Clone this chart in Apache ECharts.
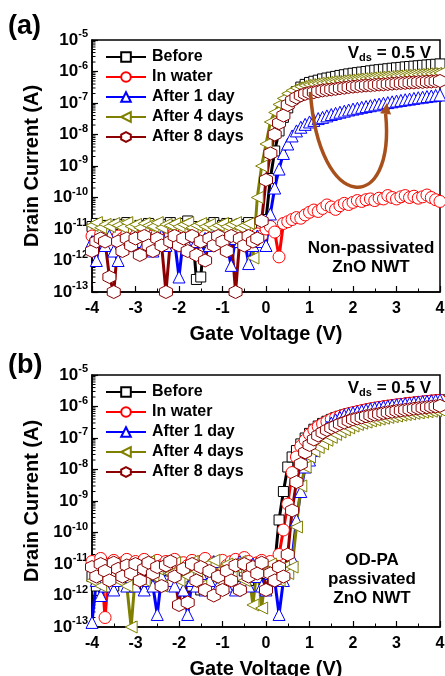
<!DOCTYPE html>
<html>
<head>
<meta charset="utf-8">
<script src="https://cdn.jsdelivr.net/npm/echarts@6/dist/echarts.min.js"></script>
<style>html,body{margin:0;padding:0;background:#fff}#c{width:445px;height:676px}</style>
</head>
<body>
<div id="c"></div>
<script>
// Gate voltage sweep (V)
const V = [-4.0,-3.9,-3.8,-3.7,-3.6,-3.5,-3.4,-3.3,-3.2,-3.1,
 -3.0,-2.9,-2.8,-2.7,-2.6,-2.5,-2.4,-2.3,-2.2,-2.1,
 -2.0,-1.9,-1.8,-1.7,-1.6,-1.5,-1.4,-1.3,-1.2,-1.1,
 -1.0,-0.9,-0.8,-0.7,-0.6,-0.5,-0.4,-0.3,-0.2,-0.1,
 0.0,0.1,0.2,0.3,0.4,0.5,0.6,0.7,0.8,0.9,
 1.0,1.1,1.2,1.3,1.4,1.5,1.6,1.7,1.8,1.9,
 2.0,2.1,2.2,2.3,2.4,2.5,2.6,2.7,2.8,2.9,
 3.0,3.1,3.2,3.3,3.4,3.5,3.6,3.7,3.8,3.9,
 4.0];
const seriesNames = ['Before','In water','After 1 day','After 4 days','After 8 days'];
const yTicks = [1e-13,1e-12,1e-11,1e-10,1e-9,1e-8,1e-7,1e-6,1e-5];
const xTicks = [-4,-3,-2,-1,0,1,2,3,4];

// ---- Panel (a): non-passivated ----
const aBefore = [
 1.2e-11,1.5e-11,9e-12,1.3e-11,1.1e-11,8e-12,1.4e-11,1.2e-11,1.6e-11,9e-12,
 1.1e-11,1.3e-11,1e-11,1.5e-11,1.2e-11,4e-12,1.4e-11,1.1e-11,1.6e-11,1.3e-11,
 9e-12,1.5e-11,1.8e-11,1.2e-11,2.5e-13,3e-13,1.1e-11,1.4e-11,1.6e-11,1e-11,
 1.3e-11,1.5e-11,1.1e-11,9e-12,1.4e-11,1.2e-11,1.6e-11,1.2e-11,1.5e-11,1.1e-11,
 2e-11,4e-10,3e-9,1.3e-8,3.5e-8,7e-8,1.4e-7,2.3e-7,3.2e-7,3.9e-7,
 4.5e-7,4.9e-7,5.3e-7,5.8e-7,6.2e-7,6.6e-7,7.0e-7,7.5e-7,7.9e-7,8.4e-7,
 8.8e-7,9.2e-7,9.6e-7,1.0e-6,1.05e-6,1.1e-6,1.14e-6,1.18e-6,1.22e-6,1.27e-6,
 1.31e-6,1.35e-6,1.4e-6,1.44e-6,1.48e-6,1.52e-6,1.57e-6,1.61e-6,1.65e-6,1.7e-6,
 1.74e-6];
const aWater = [
 6e-12,4e-12,7e-12,5e-12,8e-12,3e-12,6e-12,5e-12,7e-12,4e-12,
 6e-12,5e-12,8e-12,4e-12,6e-12,7e-12,5e-12,3e-12,6e-12,8e-12,
 5e-12,7e-12,4e-12,6e-12,5e-12,8e-12,6e-12,4e-12,7e-12,5e-12,
 6e-12,8e-12,5e-12,7e-12,4e-12,6e-12,8e-12,5e-12,7e-12,6e-12,
 1e-11,1.2e-11,8e-12,1.3e-12,1.5e-11,1.7e-11,2e-11,2.3e-11,2.2e-11,2.8e-11,
 3.4e-11,4e-11,3.6e-11,4.5e-11,5.8e-11,5e-11,4.2e-11,5.5e-11,6.5e-11,6e-11,
 7e-11,8e-11,7.5e-11,8.5e-11,9e-11,8e-11,9.5e-11,9e-11,1.15e-10,1e-10,
 9e-11,1.05e-10,1.15e-10,1e-10,1.1e-10,9.5e-11,1.05e-10,1.2e-10,1e-10,8.5e-11,
 7.5e-11];
const aDay1 = [
 4e-12,1e-12,5e-12,3e-12,6e-12,2e-12,1e-12,4e-12,5e-12,3e-12,
 6e-12,4e-12,3e-12,5e-12,2e-12,4e-12,6e-12,3e-12,5e-12,4e-12,
 3e-13,5e-12,3e-12,6e-12,4e-12,2e-12,5e-12,3e-12,6e-12,4e-12,
 5e-12,3e-12,7e-13,5e-12,4e-12,5e-12,8e-13,3e-12,6e-12,4e-12,
 3e-12,3e-11,2e-10,8e-10,2.5e-9,5e-9,9e-9,1.3e-8,1.7e-8,2.1e-8,
 2.5e-8,2.8e-8,3.2e-8,3.5e-8,3.9e-8,4.3e-8,4.7e-8,5.1e-8,5.5e-8,6.0e-8,
 6.4e-8,6.8e-8,7.3e-8,7.7e-8,8.2e-8,8.7e-8,9.2e-8,9.8e-8,1.03e-7,1.09e-7,
 1.15e-7,1.21e-7,1.27e-7,1.33e-7,1.4e-7,1.47e-7,1.53e-7,1.6e-7,1.67e-7,1.74e-7,
 1.8e-7];
const aDay4 = [
 1.3e-11,1.6e-11,1.1e-11,1.4e-11,1.2e-11,1.5e-11,1.3e-11,1.1e-11,1.6e-11,1.2e-11,
 1.4e-11,1.1e-11,1.5e-11,1.3e-11,1.2e-11,1.6e-11,1.1e-11,1.4e-11,1.3e-11,1.5e-11,
 1.2e-11,1.4e-11,1.6e-11,1.1e-11,1.3e-11,1.5e-11,1.2e-11,1.4e-11,1.1e-11,1.3e-11,
 1.5e-11,1.2e-11,1.4e-11,1.6e-11,1.1e-11,1.3e-11,1.5e-11,1.2e-12,1e-10,1e-9,
 5e-9,2.5e-8,5e-8,9e-8,1.4e-7,2e-7,2.5e-7,3e-7,3.3e-7,3.6e-7,
 3.8e-7,4.0e-7,4.2e-7,4.3e-7,4.5e-7,4.7e-7,4.8e-7,5.0e-7,5.2e-7,5.3e-7,
 5.5e-7,5.7e-7,5.9e-7,6.0e-7,6.2e-7,6.4e-7,6.5e-7,6.7e-7,6.9e-7,7.0e-7,
 7.2e-7,7.4e-7,7.5e-7,7.7e-7,7.9e-7,8.0e-7,8.2e-7,8.4e-7,8.5e-7,8.7e-7,
 8.9e-7];
const aDay8 = [
 2e-12,4e-12,5e-12,4e-12,3e-13,1e-13,4e-12,2e-12,5e-12,3e-12,
 5e-12,1.5e-12,6e-12,3e-12,2e-12,5e-12,3e-12,1e-13,4e-12,6e-12,
 3e-12,5e-12,2e-12,6e-12,1.5e-12,4e-12,1e-12,5e-12,3e-12,6e-12,
 4e-12,2e-12,6e-12,1e-13,5e-12,3e-12,6e-12,4e-12,5e-12,1.8e-11,
 3.6e-10,2.5e-9,1e-8,2.3e-8,4e-8,8.7e-8,1.2e-7,1.5e-7,1.75e-7,1.95e-7,
 2.1e-7,2.2e-7,2.35e-7,2.5e-7,2.6e-7,2.7e-7,2.8e-7,2.95e-7,3.05e-7,3.2e-7,
 3.3e-7,3.4e-7,3.5e-7,3.6e-7,3.65e-7,3.75e-7,3.85e-7,3.9e-7,4.0e-7,4.1e-7,
 4.2e-7,4.3e-7,4.35e-7,4.45e-7,4.5e-7,4.6e-7,4.65e-7,4.75e-7,4.8e-7,4.9e-7,
 5.0e-7];

// ---- Panel (b): OD-PA passivated ----
const bBefore = [
 4e-12,2e-12,6e-12,3e-12,5e-12,2e-12,4e-12,6e-12,3e-12,5e-12,
 2e-12,4e-12,6e-12,3e-12,5e-12,2e-12,4e-12,3e-12,6e-12,4e-12,
 8e-12,3e-12,5e-12,2e-12,4e-12,1.5e-12,3e-12,5e-12,2e-12,4e-12,
 6e-12,3e-12,5e-12,2e-12,4e-12,6e-12,3e-12,5e-12,4e-12,6e-12,
 5e-12,7e-12,9e-12,2.5e-10,2e-9,1.2e-8,2.5e-8,4e-8,6.5e-8,1e-7,
 1.4e-7,1.9e-7,2.4e-7,2.9e-7,3.4e-7,3.9e-7,4.4e-7,4.9e-7,5.4e-7,5.9e-7,
 6.4e-7,6.9e-7,7.4e-7,7.9e-7,8.4e-7,8.9e-7,9.4e-7,9.9e-7,1.04e-6,1.09e-6,
 1.14e-6,1.19e-6,1.24e-6,1.29e-6,1.33e-6,1.38e-6,1.43e-6,1.48e-6,1.53e-6,1.58e-6,
 1.63e-6];
const bWater = [
 1.2e-11,8e-12,1.5e-11,2e-13,1e-11,1.3e-11,7e-12,1.1e-11,1.4e-11,9e-12,
 1.2e-11,1e-11,1.4e-11,8e-12,1.1e-11,1.3e-11,9e-12,1.2e-11,1e-11,1.4e-11,
 2e-12,1.1e-11,9e-12,1.3e-11,1e-11,1.2e-11,1.5e-11,8e-12,1.1e-11,1e-11,
 1.3e-11,9e-12,1.2e-11,1.4e-11,1e-11,1.6e-11,1.2e-11,9e-12,1.1e-11,1.3e-11,
 1e-11,1.2e-11,8e-12,2e-11,1.2e-10,8e-10,8e-9,2.5e-8,5.5e-8,8.5e-8,
 1.3e-7,1.8e-7,2.3e-7,2.8e-7,3.3e-7,3.9e-7,4.4e-7,4.9e-7,5.4e-7,5.9e-7,
 6.4e-7,6.9e-7,7.4e-7,7.9e-7,8.4e-7,8.9e-7,9.4e-7,9.9e-7,1.03e-6,1.08e-6,
 1.13e-6,1.17e-6,1.22e-6,1.27e-6,1.31e-6,1.36e-6,1.4e-6,1.45e-6,1.5e-6,1.54e-6,
 1.58e-6];
const bDay1 = [
 1.4e-13,3e-12,1e-12,2e-12,5e-12,1.5e-12,3e-12,8e-12,2e-12,4e-12,
 2e-12,5e-12,1.5e-12,3e-12,2e-12,2.5e-13,4e-12,1e-11,3e-12,2e-12,
 4e-12,1.5e-12,2.5e-13,3e-12,2e-12,5e-12,1.5e-12,3e-12,1.2e-11,2e-12,
 4e-12,2e-12,5e-12,1.5e-12,1.2e-11,3e-12,2e-12,1e-11,4e-12,2e-12,
 1.5e-12,5e-12,3e-12,2.5e-13,3e-12,8e-12,1.5e-11,2.5e-10,2e-9,1.2e-8,
 2e-8,4e-8,8e-8,1.4e-7,2.2e-7,3e-7,3.8e-7,4.5e-7,5.2e-7,5.8e-7,
 6.3e-7,6.8e-7,7.3e-7,7.8e-7,8.3e-7,8.8e-7,9.3e-7,9.8e-7,1.03e-6,1.08e-6,
 1.12e-6,1.17e-6,1.22e-6,1.27e-6,1.32e-6,1.36e-6,1.41e-6,1.46e-6,1.51e-6,1.55e-6,
 1.6e-6];
const bDay4 = [
 3e-12,6e-12,2e-12,8e-12,4e-12,1e-11,3e-12,6e-12,2e-12,1e-13,
 5e-12,8e-12,3e-12,1.2e-11,4e-12,7e-12,2e-12,9e-12,5e-12,1.1e-11,
 3e-12,8e-12,4e-12,1.2e-11,6e-12,2e-12,9e-12,5e-12,1.3e-11,3e-12,
 7e-12,1e-11,4e-12,8e-12,1.2e-11,3e-12,6e-12,5e-13,1e-11,4e-13,
 6e-12,1e-11,4e-12,3e-12,8e-12,5e-12,8e-12,1.5e-10,3e-9,1.2e-8,
 2.5e-8,3.8e-8,5e-8,6.5e-8,8.5e-8,1.05e-7,1.3e-7,1.55e-7,1.8e-7,2.1e-7,
 2.4e-7,2.7e-7,2.95e-7,3.2e-7,3.5e-7,3.75e-7,4.0e-7,4.25e-7,4.5e-7,4.75e-7,
 5.0e-7,5.3e-7,5.55e-7,5.8e-7,6.05e-7,6.3e-7,6.6e-7,6.85e-7,7.1e-7,7.35e-7,
 7.6e-7];
const bDay8 = [
 8e-12,4e-12,1e-11,6e-12,3e-12,1.1e-11,7e-12,4e-12,9e-12,5e-12,
 1e-11,3e-12,7e-12,1.1e-11,5e-12,8e-12,2e-12,9e-12,1.2e-11,4e-12,
 5e-13,7e-12,6e-13,1e-11,3e-12,8e-12,1.5e-12,6e-12,1e-12,4e-12,
 1.5e-12,6e-12,3e-12,9e-12,1.5e-12,1e-11,4e-12,8e-12,5e-12,1.1e-11,
 1.5e-12,5e-12,3e-12,8e-12,4e-12,2e-11,5e-10,4e-9,1.5e-8,3.5e-8,
 6e-8,9e-8,1.2e-7,1.5e-7,1.8e-7,2.1e-7,2.4e-7,2.8e-7,3.1e-7,3.5e-7,
 3.9e-7,4.2e-7,4.5e-7,4.9e-7,5.2e-7,5.5e-7,5.8e-7,6.2e-7,6.5e-7,6.8e-7,
 7.2e-7,7.5e-7,7.8e-7,8.1e-7,8.5e-7,8.8e-7,9.1e-7,9.5e-7,9.8e-7,1.01e-6,
 1.05e-6];

// Arrow annotation (data coords): start, control1, control2, end, tip
const arrowPts = [[1.02, 2.24e-7], [1.21, 2.8e-11], [2.98, 2.8e-11], [2.75, 4.5e-8], [2.78, 1.0e-7]];

const FONT = 'Liberation Sans, Arial, Helvetica, sans-serif';
const colors = {'Before':'#000000','In water':'#ff0000','After 1 day':'#0000ff','After 4 days':'#808000','After 8 days':'#8b0000'};
const symbols = {
  'Before':'rect',
  'In water':'circle',
  'After 1 day':'triangle',
  'After 4 days':'path://M0,5 L10,0 L10,10 Z',
  'After 8 days':'path://M5,0 L9.33,2.5 L9.33,7.5 L5,10 L0.67,7.5 L0.67,2.5 Z'
};
const sizes = {'Before':10,'In water':12,'After 1 day':12,'After 4 days':12,'After 8 days':13};

const chart = echarts.init(document.getElementById('c'), null, {renderer:'canvas'});

function mk(name, vals, gi){
  const c = colors[name];
  return {
    type:'line', name:name, xAxisIndex:gi, yAxisIndex:gi,
    data: V.map((v,i)=>[v, vals[i]]),
    symbol: symbols[name], symbolSize: sizes[name], showSymbol:true, showAllSymbol:true,
    lineStyle:{color:c, width:3},
    itemStyle:{color:'#ffffff', borderColor:c, borderWidth:1},
    emphasis:{disabled:true}, animation:false
  };
}

// minor log ticks (axis decoration)
const minorVals = [];
for (let e=-13; e<-5; e++) for (let m=2; m<=9; m++) minorVals.push([-4, m*Math.pow(10,e)]);
function minorSeries(gi){
  return {
    type:'custom', xAxisIndex:gi, yAxisIndex:gi, silent:true, animation:false,
    data: minorVals, encode:{x:0,y:1}, clip:false,
    renderItem: function(params, api){
      const p = api.coord([-4, api.value(1)]);
      return {type:'line', shape:{x1:p[0], y1:p[1], x2:p[0]+3.5, y2:p[1]}, style:{stroke:'#000', lineWidth:1}};
    }
  };
}

const grids = [
  {left:92, top:40, width:348, height:252},
  {left:92, top:375, width:348, height:252}
];

function xAx(gi){
  return {
    type:'value', gridIndex:gi, min:-4, max:4, interval:1,
    axisLine:{show:true, onZero:false, lineStyle:{color:'#000', width:1.5}},
    axisTick:{show:true, inside:true, length:6, lineStyle:{color:'#000', width:1.2}},
    minorTick:{show:true, splitNumber:2, length:3.5, lineStyle:{color:'#000', width:1}},
    splitLine:{show:false}, minorSplitLine:{show:false},
    axisLabel:{color:'#000', fontSize:16, fontWeight:'bold', fontFamily:FONT, margin:9},
    name:'Gate Voltage (V)', nameLocation:'middle', nameGap:32,
    nameTextStyle:{color:'#000', fontSize:20, fontWeight:'bold', fontFamily:FONT}
  };
}
function yAx(gi){
  return {
    type:'log', gridIndex:gi, logBase:10, min:1e-13, max:1e-5, interval:1,
    axisLine:{show:true, onZero:false, lineStyle:{color:'#000', width:1.5}},
    axisTick:{show:true, inside:true, length:6, lineStyle:{color:'#000', width:1.2}},
    splitLine:{show:false},
    axisLabel:{
      margin:4, fontFamily:FONT,
      formatter:function(v){ const e = Math.round(Math.log10(v)); return '{b|10}{s|'+e+'}'; },
      rich:{
        b:{fontSize:17, fontWeight:'bold', color:'#000', fontFamily:FONT},
        s:{fontSize:11, fontWeight:'bold', color:'#000', fontFamily:FONT, padding:[0,0,12,0]}
      }
    },
    name:'Drain Current (A)', nameLocation:'middle', nameGap:45, nameRotate:90,
    nameTextStyle:{color:'#000', fontSize:20, fontWeight:'bold', fontFamily:FONT}
  };
}
function leg(top){
  return {
    orient:'vertical', left:100, top:top, itemWidth:40, itemHeight:12, itemGap:4,
    selectedMode:false, data:seriesNames,
    textStyle:{color:'#000', fontSize:16, fontWeight:'bold', fontFamily:FONT, padding:[0,0,0,1]}
  };
}

const series = [
  mk('Before', aBefore, 0), mk('In water', aWater, 0), mk('After 1 day', aDay1, 0),
  mk('After 4 days', aDay4, 0), mk('After 8 days', aDay8, 0),
  mk('Before', bBefore, 1), mk('In water', bWater, 1), mk('After 1 day', bDay1, 1),
  mk('After 4 days', bDay4, 1), mk('After 8 days', bDay8, 1),
  minorSeries(0), minorSeries(1)
];

chart.setOption({
  animation:false,
  backgroundColor:'#ffffff',
  grid: grids.map(g=>Object.assign({show:true, borderColor:'#000', borderWidth:1.5, backgroundColor:'transparent', containLabel:false, outerBoundsMode:'none'}, g)),
  xAxis:[xAx(0), xAx(1)],
  yAxis:[yAx(0), yAx(1)],
  legend:[leg(44), leg(379)],
  tooltip:{show:false},
  series: series
});

// annotations
const px = arrowPts.map(p=>chart.convertToPixel({xAxisIndex:0, yAxisIndex:0}, p));
const E = px[3], T = px[4];
const dx = T[0]-E[0], dy = T[1]-E[1], L = Math.sqrt(dx*dx+dy*dy) || 1;
const nx = -dy/L*5.5, ny = dx/L*5.5;
const brown = '#a8501c';
const txt = (x,y,text,size,align) => ({type:'text', x:x, y:y, z:50, style:{text:text, fill:'#000', fontSize:size, fontWeight:'bold', fontFamily:FONT, align:align||'center', verticalAlign:'middle', lineHeight:19}});
chart.setOption({
  graphic:[
    {type:'bezierCurve', z:40, shape:{x1:px[0][0], y1:px[0][1], cpx1:px[1][0], cpy1:px[1][1], cpx2:px[2][0], cpy2:px[2][1], x2:E[0], y2:E[1]}, style:{stroke:brown, lineWidth:3.5, fill:null}},
    {type:'polygon', z:41, shape:{points:[[T[0],T[1]],[E[0]+nx,E[1]+ny],[E[0]-nx,E[1]-ny]]}, style:{fill:brown}},
    txt(8, 27, '(a)', 27, 'left'),
    txt(8, 366, '(b)', 27, 'left'),
    {type:'text', x:431, y:53, z:50, style:{text:'{v|V}{d|ds}{v| = 0.5 V}', align:'right', verticalAlign:'middle', fill:'#000',
      rich:{v:{fontSize:17, fontWeight:'bold', fontFamily:FONT, fill:'#000'}, d:{fontSize:11, fontWeight:'bold', fontFamily:FONT, fill:'#000', padding:[9,0,0,0]}}}},
    {type:'text', x:431, y:388, z:50, style:{text:'{v|V}{d|ds}{v| = 0.5 V}', align:'right', verticalAlign:'middle', fill:'#000',
      rich:{v:{fontSize:17, fontWeight:'bold', fontFamily:FONT, fill:'#000'}, d:{fontSize:11, fontWeight:'bold', fontFamily:FONT, fill:'#000', padding:[9,0,0,0]}}}},
    txt(371, 258, 'Non-passivated\nZnO NWT', 17),
    txt(372, 579, 'OD-PA\npassivated\nZnO NWT', 17)
  ]
});
</script>
</body>
</html>
